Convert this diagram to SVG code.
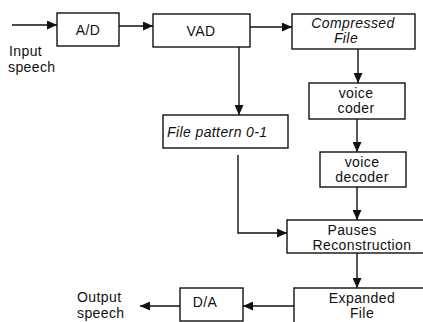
<svg xmlns="http://www.w3.org/2000/svg" width="423" height="322" viewBox="0 0 423 322">
  <style>
    .box { fill: #fff; stroke: #111; stroke-width: 1.4; }
    .wire { fill: none; stroke: #111; stroke-width: 1.4; }
    text { font-family: "Liberation Sans", Arial, Helvetica, sans-serif; font-size: 14px; letter-spacing: 0.4px; fill: #111; }
    .c { text-anchor: middle; }
    .it { font-style: italic; }
  </style>
  <defs>
    <marker id="arrow" markerUnits="userSpaceOnUse" markerWidth="10" markerHeight="9" refX="10" refY="4.5" orient="auto">
      <path d="M0,0 L10,4.5 L0,9 z" fill="#111"/>
    </marker>
  </defs>
  <rect width="423" height="322" fill="#fff"/>

  <!-- connectors -->
  <g id="connectors">
    <line class="wire" x1="12" y1="25" x2="57" y2="25" marker-end="url(#arrow)"/>
    <line class="wire" x1="119" y1="26" x2="153" y2="26" marker-end="url(#arrow)"/>
    <line class="wire" x1="250" y1="27" x2="292" y2="27" marker-end="url(#arrow)"/>
    <line class="wire" x1="239" y1="47" x2="239" y2="115" marker-end="url(#arrow)"/>
    <line class="wire" x1="358" y1="49" x2="358" y2="83" marker-end="url(#arrow)"/>
    <line class="wire" x1="357" y1="119" x2="357" y2="152" marker-end="url(#arrow)"/>
    <line class="wire" x1="357" y1="187" x2="357" y2="220" marker-end="url(#arrow)"/>
    <polyline class="wire" points="238,155 238,233 287,233" marker-end="url(#arrow)"/>
    <line class="wire" x1="357" y1="253" x2="357" y2="288" marker-end="url(#arrow)"/>
    <line class="wire" x1="294" y1="306" x2="243" y2="306" marker-end="url(#arrow)"/>
    <line class="wire" x1="180" y1="306" x2="140" y2="306" marker-end="url(#arrow)"/>
  </g>

  <!-- input / output labels -->
  <g id="input-label">
    <text x="9" y="56">Input</text>
    <text x="8" y="72">speech</text>
  </g>
  <g id="output-label">
    <text x="77" y="302">Output</text>
    <text x="77" y="318">speech</text>
  </g>

  <g id="ad">
    <rect class="box" x="57" y="13" width="62" height="33"/>
    <text class="c" x="88" y="35">A/D</text>
  </g>
  <g id="vad">
    <rect class="box" x="153" y="14" width="97" height="33"/>
    <text class="c" x="201" y="36">VAD</text>
  </g>
  <g id="compressed-file">
    <rect class="box" x="292" y="14" width="123" height="35"/>
    <text class="c it" x="353" y="28">Compressed</text>
    <text class="c it" x="346" y="43">File</text>
  </g>
  <g id="voice-coder">
    <rect class="box" x="309" y="83" width="96" height="36"/>
    <text class="c" x="356" y="98">voice</text>
    <text class="c" x="356" y="113">coder</text>
  </g>
  <g id="file-pattern">
    <rect class="box" x="163" y="115" width="125" height="33"/>
    <text class="it" x="167" y="137">File pattern 0-1</text>
  </g>
  <g id="voice-decoder">
    <rect class="box" x="320" y="152" width="86" height="35"/>
    <text class="c" x="362" y="167">voice</text>
    <text class="c" x="362" y="182">decoder</text>
  </g>
  <g id="pauses-reconstruction">
    <rect class="box" x="287" y="220" width="140" height="33"/>
    <text class="c" x="352" y="235">Pauses</text>
    <text class="c" x="362" y="250">Reconstruction</text>
  </g>
  <g id="expanded-file">
    <rect class="box" x="294" y="288" width="133" height="40"/>
    <text class="c" x="362" y="303">Expanded</text>
    <text class="c" x="362" y="318">File</text>
  </g>
  <g id="da">
    <rect class="box" x="180" y="288" width="63" height="33"/>
    <text class="c" x="205" y="307">D/A</text>
  </g>
</svg>
